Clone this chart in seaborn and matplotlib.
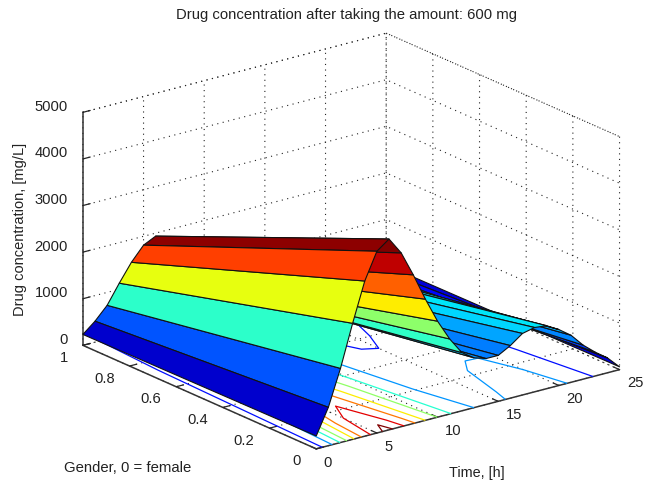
import numpy as np
import seaborn as sns
import matplotlib.pyplot as plt
from mpl_toolkits.mplot3d import proj3d

sns.set_style('white')
plt.rcParams['font.family'] = ['Liberation Sans', 'DejaVu Sans']
plt.rcParams['grid.linestyle'] = (0, (1, 4))
plt.rcParams['grid.color'] = '#222222'
plt.rcParams['grid.linewidth'] = 0.8

# values
time_h = [0, 1, 2, 3, 4, 5, 6, 7, 8, 9, 10, 11, 12, 13, 14, 15, 16, 17, 18, 19, 20, 21, 22, 23, 24, 25]
gender = [0, 1]
conc_female = [276, 823, 1591, 2490, 3330, 3900, 4095, 3730, 3190, 2600, 2060, 1610, 1250,
               1070, 986, 985, 1128, 1320, 1380, 1350, 1200, 1010, 730, 510, 320, 60]
conc_male = [234, 450, 723, 1130, 1510, 1810, 1936, 1650, 1300, 1000, 750, 560, 400,
             260, 170, 135, 170, 260, 340, 400, 350, 200, 105, 70, 45, 20]
contour_levels = [550, 1070, 1570, 2070, 2600, 3100, 3600, 3990]
time_ticks = [0, 5, 10, 15, 20, 25]
gender_ticks = [0, 0.2, 0.4, 0.6, 0.8, 1]
gender_labels = ['0', '0.2', '0.4', '0.6', '0.8', '1']
conc_ticks = [0, 1000, 2000, 3000, 4000, 5000]

T, G = np.meshgrid(time_h, gender)
Z = np.array([conc_female, conc_male], dtype=float)

jet = plt.get_cmap('jet')
norm = plt.Normalize(0, 3950)
face = jet(norm(np.array([conc_female, conc_female], dtype=float)))

fig = plt.figure(figsize=(6.52, 4.87), dpi=100)
ax = fig.add_axes([54.4 / 652, -50.8 / 487, 578 / 652, 578 / 487], projection='3d', computed_zorder=False)
ax.set_proj_type('ortho')
ax.view_init(elev=19.9, azim=-127.5)
ax.set_box_aspect((378, 379, 245))
ax.patch.set_alpha(0)

ax.set_xlim(0, 25, view_margin=0)
ax.set_ylim(0, 1, view_margin=0)
ax.set_zlim(0, 5000, view_margin=0)
ax.set_xticks(time_ticks)
ax.set_yticks(gender_ticks)
ax.set_zticks(conc_ticks)
ax.set_xticklabels([])
ax.set_yticklabels([])
ax.set_zticklabels([])

for axis in [ax.xaxis, ax.yaxis, ax.zaxis]:
    axis.set_pane_color((1, 1, 1, 0))
    axis.pane.set_edgecolor((1, 1, 1, 0))
    axis.line.set_linewidth(1.1)
    axis.line.set_color('#333333')
    axis._axinfo['tick']['inward_factor'] = 0
    axis._axinfo['tick']['outward_factor'] = 0.3
    axis._axinfo['tick']['linewidth'] = {True: 0.9, False: 0.9}
    axis._axinfo['tick']['color'] = '#333333'


# tick labels sit at a fixed pixel offset from their tick, as in the matlab figure
def tick_label(x, y, z, text, dx, dy, ha):
    px, py, _ = proj3d.proj_transform(x, y, z, ax.get_proj())
    ax.annotate(text, xy=(px, py), xytext=(dx, dy), textcoords='offset pixels', ha=ha, va='center',
                fontsize=10.6, color='#222222', annotation_clip=False)


for t in time_ticks:
    tick_label(t, 0, 0, str(t), 7.5, -13.8, 'left')
for g, lab in zip(gender_ticks, gender_labels):
    tick_label(0, g, 0, lab, -15, -12.5, 'right')
for c in conc_ticks:
    tick_label(0, 1, c, str(c), -15, 5.5, 'right')

# dotted upper edges of the back walls
ax.plot([0, 25], [1, 1], [5000, 5000], color='#222222', ls=(0, (1, 4)), lw=0.8, zorder=1)
ax.plot([25, 25], [1, 0], [5000, 5000], color='#222222', ls=(0, (1, 4)), lw=0.8, zorder=1)

ax.contour(T, G, Z, levels=contour_levels, zdir='z', offset=0, cmap=jet, norm=norm, linewidths=0.9, zorder=2)
ax.plot_surface(T, G, Z, facecolors=face, rcount=2, ccount=26, shade=False,
                edgecolor='#111111', linewidth=0.8, antialiased=True, zorder=3)

fig.text(347 / 652, 1 - 15 / 487, 'Drug concentration after taking the amount: 600 mg', ha='center', va='center', fontsize=10.7, color='#222222')
fig.text(20 / 652, 1 - 229 / 487, 'Drug concentration, [mg/L]', rotation=90, ha='center', va='center', fontsize=10.5, color='#222222')
fig.text(477 / 652, 1 - 473 / 487, 'Time, [h]', ha='center', va='center', fontsize=10.4, color='#222222')
fig.text(128 / 652, 1 - 468 / 487, 'Gender, 0 = female', ha='center', va='center', fontsize=10.7, color='#222222')

fig.savefig('out.png', dpi=100)
